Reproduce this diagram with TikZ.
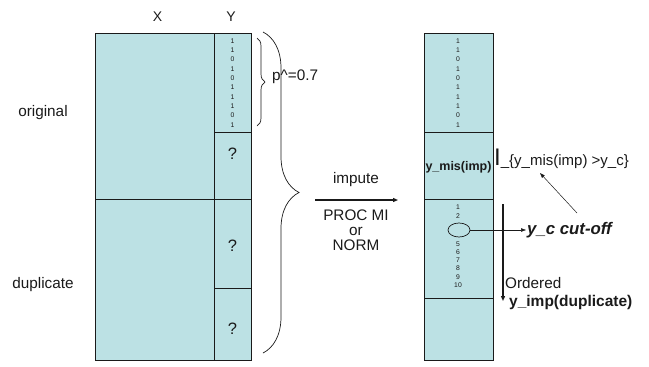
\documentclass[tikz,border=0pt]{standalone}
\usepackage{fontspec}
\setmainfont{Liberation Sans}
\usepackage{xcolor}
\usepackage{tikz}
\usetikzlibrary{arrows.meta,positioning,shapes.geometric,decorations.pathreplacing}
\definecolor{cellfill}{HTML}{BCE1E4}
\definecolor{ink}{HTML}{1A1A1A}
\tikzset{
  cell/.style 2 args={draw=ink,fill=cellfill,line width=0.8pt,anchor=north west,inner sep=0pt,outer sep=0pt,minimum width=#1pt,minimum height=#2pt},
  lbl/.style={font=\fontsize{15.3}{15}\selectfont,text=ink,inner sep=1pt},
  hdr/.style={font=\fontsize{14}{15}\selectfont,text=ink,inner sep=1pt},
  bit/.style={font=\fontsize{6.8}{7}\selectfont,text=ink,inner sep=0pt},
  qmark/.style={font=\fontsize{16.5}{17}\selectfont,text=ink,inner sep=0pt},
  bracel/.style={decorate,decoration={brace,amplitude=#1pt},draw=ink,line width=0.7pt},
  mainarrow/.style={-{Triangle[length=5pt,width=4pt]},line width=1.1pt,color=ink},
  ordarrow/.style={-{Triangle[length=5pt,width=4pt]},line width=1.5pt,color=ink},
  thinarrow/.style={-{Triangle[length=5pt,width=3.5pt]},line width=0.5pt,color=ink},
}

\begin{document}
\begin{tikzpicture}[x=1pt,y=-1pt]
    \useasboundingbox (0,0) rectangle (649,367);
    % left table: X and Y
    \node[cell={119}{166}] (xorig) at (95,33) {};
    \node[cell={119}{161}] (xdup) at (95,199) {};
    \node[cell={37}{99}] (yobs) at (214,33) {};
    \node[cell={37}{67}] (ymis) at (214,132) {};
    \node[cell={37}{89}] (ydupa) at (214,199) {};
    \node[cell={37}{72}] (ydupb) at (214,288) {};
    \node[hdr] (xhead) at (157.5,17) {X};
    \node[hdr] (yhead) at (231,17) {Y};
    \node[lbl] (orig) at (43,113) {original};
    \node[lbl] (dup) at (43,285) {duplicate};
    \foreach \d [count=\i from 0] in {1,1,0,1,0,1,1,1,0,1}
      \node[bit] (lbit\i) at (232.5,{41+9.3*\i}) {\d};
    \node[qmark] (qa) at (232.5,154) {?};
    \node[qmark] (qb) at (232.5,246) {?};
    \node[qmark] (qc) at (232.5,329) {?};
    % braces
    \draw[bracel=8] (257,38) -- (257,126);
    \node[lbl,anchor=west] (phat) at (271,77) {p\textasciicircum=0.7};
    \draw[bracel=36] (263,32) -- (263,353);
    \coordinate (impfrom) at (315,200);
    \coordinate (impto) at (398,200);
    \draw[mainarrow] (impfrom) -- (impto);
    \node[lbl] (impute) at (356,180) {impute};
    \node[lbl,align=center,anchor=north] (method) at (356,209) {PROC MI\\or\\NORM};
    % right column after imputation
    \node[cell={69}{99}] (robs) at (424,33) {};
    \node[cell={69}{67}] (rmis) at (424,132) {};
    \node[cell={69}{99}] (rord) at (424,199) {};
    \node[cell={69}{62}] (rrest) at (424,298) {};
    \foreach \d [count=\i from 0] in {1,1,0,1,0,1,1,1,0,1}
      \node[bit] (rbit\i) at (458,{41+9.3*\i}) {\d};
    \node[font=\fontsize{12.5}{13}\selectfont\bfseries,text=ink,inner sep=0pt] (ymisimp) at (458.5,167) {y\_mis(imp)};
    \node[bit] (obit1) at (458,207) {1};
    \node[bit] (obit2) at (458,216) {2};
    \foreach \d [count=\i from 0] in {5,6,7,8,9,10}
      \node[bit] (obit\d) at (458,{244+8.2*\i}) {\d};
    \node[draw=ink,line width=0.7pt,ellipse,minimum width=22pt,minimum height=14pt,inner sep=0pt] (cut) at (459,230) {};
    \node[anchor=base west,text=ink,inner sep=0pt] (indic) at (494,165)
      {\fontsize{24}{24}\selectfont I\fontsize{15}{15}\selectfont\_\{y\_mis(imp) >y\_c\}};
    \node[anchor=west,font=\fontsize{16.8}{17}\selectfont\bfseries\itshape,text=ink,inner sep=1pt] (ycut) at (526,230) {y\_c cut-off};
    \draw[thinarrow] (cut.east) -- (ycut.west);
    \coordinate (ptrfrom) at (577,213);
    \coordinate (ptrto) at (540,173);
    \draw[thinarrow] (ptrfrom) -- (ptrto);
    \coordinate (ordtop) at (503,204);
    \coordinate (ordbot) at (503,301);
    \draw[ordarrow] (ordtop) -- (ordbot);
    \node[lbl,anchor=west] (ordered) at (504,283) {Ordered};
    \node[lbl,anchor=west,font=\fontsize{15.5}{15}\selectfont\bfseries] (yimp) at (508,302) {y\_imp(duplicate)};
  \end{tikzpicture}
\end{document}
